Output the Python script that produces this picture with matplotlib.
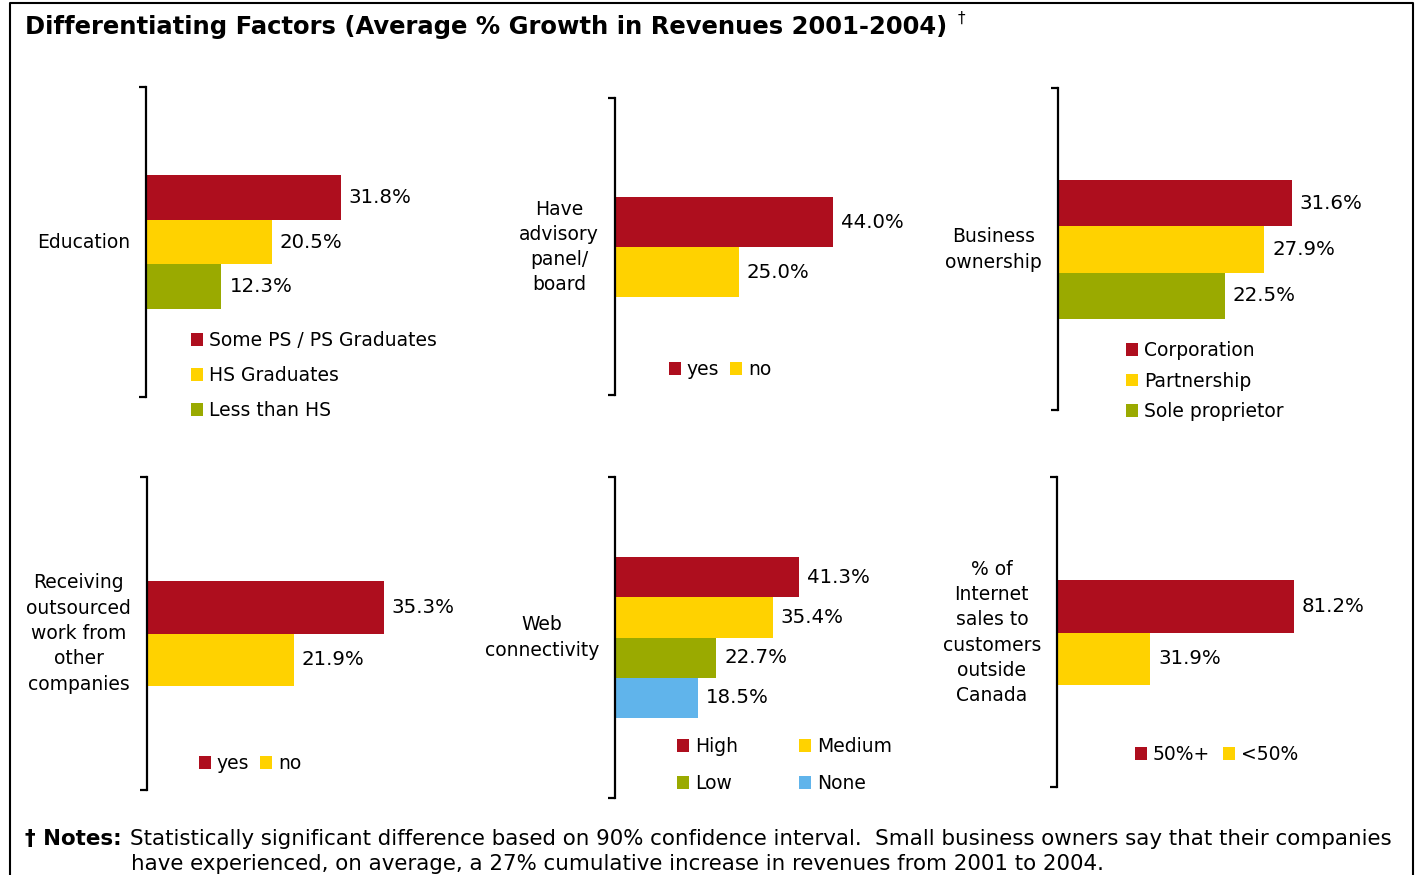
import matplotlib
matplotlib.use("Agg")
import matplotlib.pyplot as plt
from matplotlib.patches import Patch
from matplotlib.lines import Line2D

plt.rcParams['font.family'] = ['DejaVu Sans']

RED = '#AE0E1E'
YELLOW = '#FFD200'
GREEN = '#9AAA00'
BLUE = '#60B4EB'

FS = 13.5

# data
edu_labels = ['Some PS / PS Graduates', 'HS Graduates', 'Less than HS']
edu_values = [31.8, 20.5, 12.3]
board_labels = ['yes', 'no']
board_values = [44.0, 25.0]
owner_labels = ['Corporation', 'Partnership', 'Sole proprietor']
owner_values = [31.6, 27.9, 22.5]
outsourced_labels = ['yes', 'no']
outsourced_values = [35.3, 21.9]
web_labels = ['High', 'Medium', 'Low', 'None']
web_values = [41.3, 35.4, 22.7, 18.5]
internet_labels = ['50%+', '<50%']
internet_values = [81.2, 31.9]

W, H = 1419, 875
fig = plt.figure(figsize=(W / 100, H / 100), dpi=100)


def fx(x):
    return x / W


def fy(y):
    return 1 - y / H


def panel(name, labels, values, colors, x0, top, bot, bar_top, bar_h, scale,
          leg_x, leg_y, ncol=1, labelspacing=0.7, columnspacing=0.6, order=None):
    width = 330
    ax = fig.add_axes([fx(x0), fy(bot), width / W, (bot - top) / H])
    n = len(values)
    y_top = -0.5 - (bar_top - top) / bar_h
    y_bot = y_top + (bot - top) / bar_h
    ax.set_ylim(y_bot, y_top)
    ax.set_xlim(0, width / scale)
    pos = list(range(n))
    ax.barh(pos, values, height=1.0, color=colors)
    for p, v in zip(pos, values):
        ax.annotate('%.1f%%' % v, (v, p), xytext=(8, 0), textcoords='offset pixels',
                    va='center', ha='left', fontsize=14.2)

    for s in ['top', 'right', 'bottom']:
        ax.spines[s].set_visible(False)
    ax.spines['left'].set_linewidth(1.6)
    ax.set_xticks([])
    ax.set_yticks([y_top, y_bot])
    ax.tick_params(axis='y', direction='out', length=5, width=1.6, labelleft=False)
    ax.patch.set_alpha(0)

    ax.annotate(name, (0, (n - 1) / 2), xytext=(-16, 0), textcoords='offset pixels',
                ha='right', va='center', multialignment='center', linespacing=1.42,
                fontsize=FS)

    handles = [Patch(facecolor=c) for c in colors]
    if order is not None:
        handles = [handles[i] for i in order]
        labels = [labels[i] for i in order]
    ax.legend(handles, labels, loc='upper left',
              bbox_to_anchor=(fx(leg_x), fy(leg_y)), bbox_transform=fig.transFigure,
              ncol=ncol, frameon=False, borderpad=0, borderaxespad=0,
              handlelength=0.65, handleheight=0.65, handletextpad=0.3,
              labelspacing=labelspacing, columnspacing=columnspacing, fontsize=FS)
    return ax


panel('Education', edu_labels, edu_values, [RED, YELLOW, GREEN],
      146, 87, 397, 175, 44.7, 6.13, 191, 331, labelspacing=0.86)
panel('Have\nadvisory\npanel/\nboard', board_labels, board_values, [RED, YELLOW],
      615, 98, 395, 197, 50, 4.955, 669, 360, ncol=2, columnspacing=0.58)
panel('Business\nownership', owner_labels, owner_values, [RED, YELLOW, GREEN],
      1058, 88, 410, 180, 46.3, 7.4, 1126, 341, labelspacing=0.62)
panel('Receiving\noutsourced\nwork from\nother\ncompanies', outsourced_labels,
      outsourced_values, [RED, YELLOW],
      147, 477, 790, 581, 52.5, 6.71, 199, 754, ncol=2, columnspacing=0.58)
panel('Web\nconnectivity', web_labels, web_values, [RED, YELLOW, GREEN, BLUE],
      615, 477, 798, 557, 40.25, 4.46, 677, 737, ncol=2, labelspacing=0.96,
      columnspacing=3.26, order=[0, 2, 1, 3])
panel('% of\nInternet\nsales to\ncustomers\noutside\nCanada', internet_labels,
      internet_values, [RED, YELLOW],
      1057, 477, 787, 580, 52.5, 2.92, 1135, 745, ncol=2, columnspacing=0.68)

fig.text(fx(25), fy(27), 'Differentiating Factors (Average % Growth in Revenues 2001-2004)',
         fontsize=17.5, fontweight='bold', va='center', ha='left')
fig.text(fx(958), fy(18), '\u2020', fontsize=11, va='center', ha='left')

NFS = 15.4
fig.text(fx(25), fy(839), '\u2020 Notes:', fontsize=NFS, fontweight='bold', va='center')
fig.text(fx(130), fy(839), 'Statistically significant difference based on 90% confidence '
         'interval.  Small business owners say that their companies',
         fontsize=NFS, va='center')
fig.text(fx(131), fy(864), 'have experienced, on average, a 27% cumulative increase in '
         'revenues from 2001 to 2004.', fontsize=NFS, va='center')

fig.add_artist(Line2D([fx(10), fx(10), fx(1413), fx(1413)],
                      [fy(880), fy(3), fy(3), fy(880)],
                      transform=fig.transFigure, color='black', lw=1.5))

fig.savefig('out.png', dpi=100)
